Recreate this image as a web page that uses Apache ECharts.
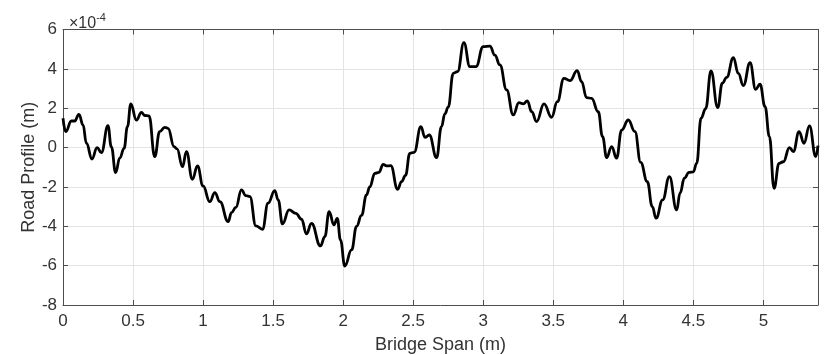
<!DOCTYPE html>
<html>
<head>
<meta charset="utf-8">
<script src="https://cdn.jsdelivr.net/npm/echarts@6/dist/echarts.min.js"></script>
<style>
html,body{margin:0;padding:0;background:#fff;}
#chart{width:824px;height:355px;}
</style>
</head>
<body>
<div id="chart"></div>
<script>
// Bridge span positions (m)
const distance = [
  0, 0.019, 0.06, 0.083, 0.114, 0.143, 0.167, 0.207, 0.243, 0.274,
  0.321, 0.345, 0.376, 0.405, 0.436, 0.46, 0.484, 0.524, 0.56, 0.583,
  0.614, 0.655, 0.69, 0.726, 0.75, 0.793, 0.814, 0.853, 0.881, 0.924,
  0.96, 1.0, 1.048, 1.084, 1.12, 1.179, 1.203, 1.234, 1.274, 1.305,
  1.334, 1.377, 1.424, 1.464, 1.512, 1.536, 1.567, 1.614, 1.662, 1.703,
  1.738, 1.774, 1.838, 1.869, 1.9, 1.934, 1.958, 1.981, 2.012, 2.06,
  2.096, 2.131, 2.167, 2.19, 2.226, 2.255, 2.286, 2.31, 2.34, 2.389,
  2.417, 2.445, 2.476, 2.507, 2.555, 2.584, 2.615, 2.667, 2.702, 2.726,
  2.75, 2.786, 2.817, 2.862, 2.905, 2.948, 3.0, 3.048, 3.083, 3.119,
  3.167, 3.214, 3.255, 3.286, 3.315, 3.346, 3.381, 3.434, 3.488, 3.529,
  3.576, 3.619, 3.671, 3.702, 3.738, 3.774, 3.821, 3.852, 3.881, 3.917,
  3.952, 3.988, 4.036, 4.083, 4.124, 4.171, 4.207, 4.234, 4.281, 4.329,
  4.381, 4.405, 4.436, 4.469, 4.5, 4.524, 4.555, 4.588, 4.626, 4.674,
  4.707, 4.738, 4.786, 4.821, 4.857, 4.905, 4.945, 4.976, 5.012, 5.043,
  5.076, 5.112, 5.143, 5.186, 5.214, 5.255, 5.29, 5.329, 5.374, 5.39
];
// Road profile (x 10^-4 m)
const profile = [
  1.49, 0.81, 1.35, 1.35, 1.69, 1.15, 0.22, -0.58, 0.0, -0.26,
  1.11, 0.04, -1.27, -0.54, -0.04, 1.06, 2.22, 1.40, 1.79, 1.63,
  1.61, -0.46, 0.81, 1.03, 0.98, 0.05, -0.07, -0.97, -0.21, -1.61,
  -0.93, -1.95, -2.75, -2.29, -2.75, -3.76, -3.31, -3.04, -2.15, -2.44,
  -2.49, -3.98, -4.15, -2.83, -2.19, -2.66, -3.88, -3.17, -3.34, -3.64,
  -4.39, -3.85, -5.0, -4.53, -3.26, -3.93, -3.6, -4.7, -6.02, -5.2,
  -4.0, -3.45, -2.4, -2.0, -1.31, -1.26, -0.85, -0.93, -0.92, -2.12,
  -1.73, -1.42, -0.29, -0.24, 1.06, 0.52, 0.64, -0.51, 1.06, 1.71,
  2.05, 3.77, 3.86, 5.33, 4.11, 4.11, 5.13, 5.16, 4.7, 4.2,
  2.93, 1.66, 2.28, 2.22, 2.37, 1.82, 1.32, 2.22, 1.54, 2.33,
  3.52, 3.4, 3.91, 3.35, 2.54, 2.5, 1.82, 0.55, -0.51, 0.05,
  -0.54, 0.89, 1.40, 0.81, -0.75, -1.73, -3.0, -3.59, -2.66, -1.48,
  -3.17, -2.32, -1.56, -1.26, -1.23, -0.8, 1.49, 1.98, 3.89, 2.03,
  3.27, 3.57, 4.57, 3.77, 3.15, 4.31, 2.96, 3.22, 2.08, 0.56,
  -2.07, -0.8, -0.72, 0.0, -0.2, 0.81, 0.22, 1.1, -0.46, 0.1
];
const xTitle = 'Bridge Span (m)';
const yTitle = 'Road Profile (m)';
const xRange = [0, 5.39];
const yRange = [-8, 6];

const FONT = '"Liberation Sans", Arial, Helvetica, sans-serif';
const AXIS_COLOR = '#4d4d4d';
const LABEL_COLOR = '#333333';
const GRID_COLOR = '#e3e3e3';

const chart = echarts.init(document.getElementById('chart'), null, {renderer: 'canvas'});

const baseAxis = {
  axisLine: {show: true, onZero: false, lineStyle: {color: AXIS_COLOR, width: 1}},
  axisTick: {show: true, inside: true, length: 5, lineStyle: {color: AXIS_COLOR}},
};

chart.setOption({
  animation: false,
  backgroundColor: '#ffffff',
  textStyle: {fontFamily: FONT},
  title: {
    text: '{a|×10}{b|-4}',
    left: 64, top: 7,
    textStyle: {
      fontWeight: 'normal',
      rich: {
        a: {fontFamily: FONT, fontSize: 16, fontWeight: 'normal', color: LABEL_COLOR, verticalAlign: 'bottom', lineHeight: 20},
        b: {fontFamily: FONT, fontSize: 11, fontWeight: 'normal', color: LABEL_COLOR, verticalAlign: 'top', lineHeight: 20, padding: [0, 0, 8, 0]}
      }
    }
  },
  grid: {left: 63, right: 6, top: 29.5, bottom: 50, containLabel: false, outerBoundsMode: 'none'},
  xAxis: [
    Object.assign({}, baseAxis, {
      type: 'value', min: xRange[0], max: xRange[1], interval: 0.5, position: 'bottom',
      name: xTitle, nameLocation: 'middle', nameGap: 31, nameMoveOverlap: false,
      nameTextStyle: {fontFamily: FONT, fontSize: 18, color: LABEL_COLOR},
      axisLabel: {fontFamily: FONT, fontSize: 17, color: LABEL_COLOR, margin: 8, showMaxLabel: false},
      splitLine: {show: true, lineStyle: {color: GRID_COLOR, width: 1}}
    }),
    Object.assign({}, baseAxis, {
      type: 'value', min: xRange[0], max: xRange[1], interval: 0.5, position: 'top',
      axisLabel: {show: false}, splitLine: {show: false}
    })
  ],
  yAxis: [
    Object.assign({}, baseAxis, {
      type: 'value', min: yRange[0], max: yRange[1], interval: 2, position: 'left',
      name: yTitle, nameLocation: 'middle', nameGap: 25, nameRotate: 90, nameMoveOverlap: false,
      nameTextStyle: {fontFamily: FONT, fontSize: 18, color: LABEL_COLOR},
      axisLabel: {fontFamily: FONT, fontSize: 17, color: LABEL_COLOR, margin: 6},
      splitLine: {show: true, lineStyle: {color: GRID_COLOR, width: 1}}
    }),
    Object.assign({}, baseAxis, {
      type: 'value', min: yRange[0], max: yRange[1], interval: 2, position: 'right',
      axisLabel: {show: false}, splitLine: {show: false}
    })
  ],
  series: [{
    type: 'line',
    data: distance.map((d, i) => [d, profile[i]]),
    xAxisIndex: 0, yAxisIndex: 0,
    showSymbol: false,
    smooth: 0.45,
    smoothMonotone: 'x',
    lineStyle: {color: '#000000', width: 2.8},
    clip: true
  }]
});
</script>
</body>
</html>
